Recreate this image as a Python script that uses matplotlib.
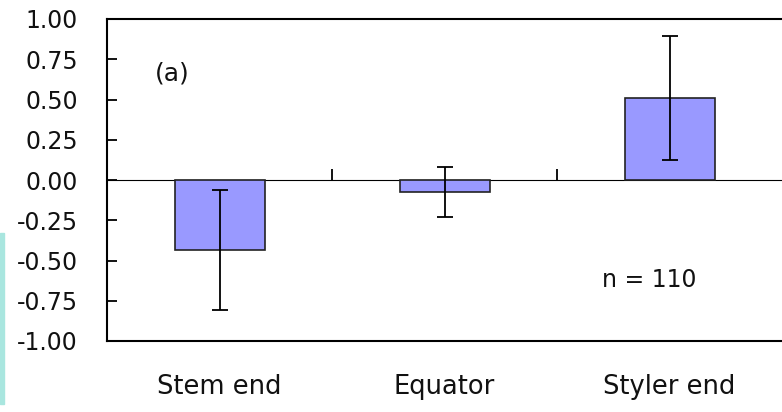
import matplotlib
matplotlib.use("Agg")
import matplotlib.pyplot as plt
from matplotlib.patches import Rectangle
import numpy as np

categories = ["Stem end", "Equator", "Styler end"]
means = [-0.435, -0.075, 0.51]
errors = [0.37, 0.155, 0.385]
yticks = [1.00, 0.75, 0.50, 0.25, 0.00, -0.25, -0.50, -0.75, -1.00]
ytick_labels = ["1.00", "0.75", "0.50", "0.25", "0.00", "-0.25", "-0.50", "-0.75", "-1.00"]

plt.rcParams['font.family'] = ['DejaVu Sans']
fig = plt.figure(figsize=(7.82, 4.12), dpi=100)
ax = fig.add_axes([107/782, 1 - 341/412, 1 - 107/782, (341 - 19)/412])

x = np.arange(len(categories))
ax.bar(x, means, width=0.4, color="#9999FF", edgecolor="#222222", linewidth=1.2, zorder=2)
ax.errorbar(x, means, yerr=errors, fmt="none", ecolor="black", elinewidth=1.3,
            capsize=6, capthick=1.3, zorder=3)

ax.set_xlim(-0.5, len(categories) - 0.5)
ax.set_ylim(-1.0, 1.0)
ax.set_yticks(yticks)
ax.set_yticklabels(ytick_labels, fontsize=17, color="#111111")
ax.tick_params(axis="y", direction="in", length=7, width=1.3, pad=21)
ax.set_xticks(x)
ax.set_xticklabels(categories, fontsize=18.5, color="#111111")
ax.tick_params(axis="x", length=0, pad=24)

for s in ["left", "bottom", "top"]:
    ax.spines[s].set_linewidth(1.5)
ax.spines["right"].set_visible(False)

# zero line with category separator ticks
sec = ax.secondary_xaxis(0.5)
sec.set_xticks(x[:-1] + 0.5)
sec.set_xticklabels([])
sec.tick_params(direction="out", length=8, width=1.3)
sec.spines["bottom"].set_linewidth(1.5)

ax.text(-0.21, 0.66, "(a)", fontsize=18, ha="center", va="center", color="#111111")
ax.text(1.91, -0.62, "n = 110", fontsize=17, ha="center", va="center", color="#111111")

fig.patches.append(Rectangle((0, 0.02), 4/782, (412 - 233)/412 - 0.02, transform=fig.transFigure,
                             color="#a9e6df", zorder=0))

fig.savefig("out.png", dpi=100)
